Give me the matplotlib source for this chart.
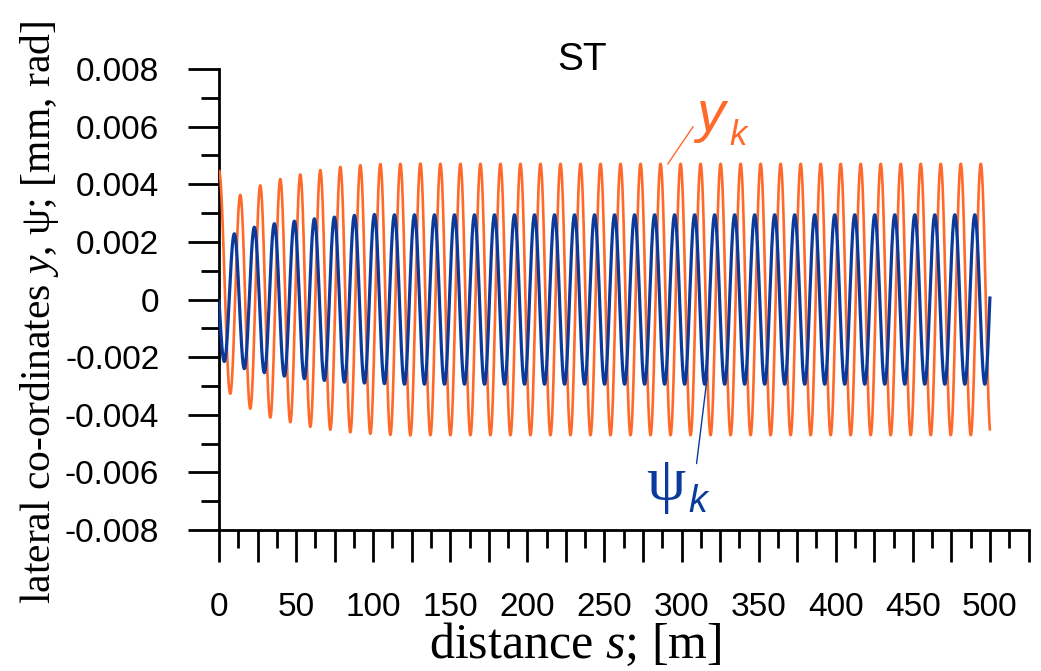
import numpy as np
import matplotlib
matplotlib.use("Agg")
import matplotlib.pyplot as plt
from matplotlib.ticker import MultipleLocator, FixedLocator

plt.rcParams['mathtext.fontset'] = 'custom'
plt.rcParams['mathtext.rm'] = 'Liberation Serif'
plt.rcParams['mathtext.it'] = 'Liberation Serif:italic'

# ---------------- data ----------------
s_max = 500.0                 # end of the simulated run [m]
wavelength = 12.98            # wavelength of the oscillation [m]

# lateral displacement y_k
y_start = 0.00448
y_first_extreme_s = 7.3
y_transient = [-0.00327, 0.00363, -0.00379, 0.00396, -0.00410, 0.00418,
               -0.00426, 0.00434, -0.00442, 0.00449, -0.00452, 0.00460,
               -0.00461, 0.00466, -0.00466, 0.00470, -0.00470, 0.00471,
               -0.00472, 0.00472]
y_steady = 0.00471

# yaw angle psi_k
psi_start = 0.0
psi_first_extreme_s = 3.44
psi_transient = [-0.00215, 0.00228, -0.00240, 0.00251, -0.00254, 0.00263,
                 -0.00266, 0.00272, -0.00275, 0.00280, -0.00281, 0.00286,
                 -0.00287, 0.00292, -0.00290, 0.00295, -0.00292]
psi_steady = 0.00294

x_ticks_labeled = [0, 50, 100, 150, 200, 250, 300, 350, 400, 450, 500]
y_ticks_labeled = [-0.008, -0.006, -0.004, -0.002, 0, 0.002, 0.004, 0.006, 0.008]
y_tick_text = ['-0.008', '-0.006', '-0.004', '-0.002', '0',
               '0.002', '0.004', '0.006', '0.008']


def build_curve(start_val, first_s, transient, steady, half, s_end):
    """Connect the read extremes with half-cosine arcs."""
    n_needed = int(np.ceil((s_end - first_s) / half)) + 2
    ext = list(transient)
    sign = -np.sign(ext[-1])
    while len(ext) < n_needed:
        ext.append(sign * steady)
        sign = -sign
    knots_s = [0.0] + [first_s + i * half for i in range(len(ext))]
    knots_v = [start_val] + ext
    s = np.linspace(0, s_end, 20000)
    v = np.empty_like(s)
    idx = np.searchsorted(knots_s, s, side='right') - 1
    idx = np.clip(idx, 0, len(knots_s) - 2)
    for i in np.unique(idx):
        m = idx == i
        s0, s1 = knots_s[i], knots_s[i + 1]
        a, b = knots_v[i], knots_v[i + 1]
        t = (s[m] - s0) / (s1 - s0)
        if i == 0 and start_val == 0.0:
            v[m] = b * np.sin(np.pi / 2 * t)
        else:
            v[m] = (a + b) / 2 + (a - b) / 2 * np.cos(np.pi * t)
    return s, v


half = wavelength / 2
s_y, y_vals = build_curve(y_start, y_first_extreme_s, y_transient, y_steady, half, s_max)
s_p, p_vals = build_curve(psi_start, psi_first_extreme_s, psi_transient, psi_steady, half, s_max)

# ---------------- figure ----------------
W, H = 1041, 671
fig = plt.figure(figsize=(W / 100, H / 100), dpi=100)
ax = fig.add_axes([219 / W, 1 - 530 / H, (1028.5 - 219) / W, (530 - 69) / H])

orange = '#FF6A2B'
blue = '#0A3B9C'
ax.plot(s_y, y_vals, color=orange, lw=1.9, zorder=3, solid_capstyle='butt')
ax.plot(s_p, p_vals, color=blue, lw=2.3, zorder=4, solid_capstyle='butt')

ax.set_xlim(0, 525)
ax.set_ylim(-0.008, 0.008)

for sp in ['top', 'right']:
    ax.spines[sp].set_visible(False)
for sp in ['left', 'bottom']:
    ax.spines[sp].set_linewidth(2.0)
    ax.spines[sp].set_zorder(2)

tick_font = dict(family='Liberation Sans', size=24)
ax.set_xticks(np.arange(0, 526, 25))
ax.set_xticklabels([str(int(v)) if int(v) in x_ticks_labeled and v % 50 == 0 else ''
                    for v in np.arange(0, 526, 25)], fontdict=tick_font)
ax.xaxis.set_minor_locator(MultipleLocator(12.5))
ax.yaxis.set_major_locator(FixedLocator(y_ticks_labeled))
ax.yaxis.set_minor_locator(MultipleLocator(0.001))
ax.set_yticklabels(y_tick_text, fontdict=tick_font)

ax.tick_params(axis='x', which='major', direction='out', length=23, width=2.0, pad=22)
ax.tick_params(axis='x', which='minor', direction='out', length=13, width=2.0)
ax.tick_params(axis='y', which='major', direction='out', length=22, width=2.0, pad=21)
ax.tick_params(axis='y', which='minor', direction='out', length=13, width=2.0)

fig.text(582 / W, 1 - 60 / H, 'ST', ha='center', va='center',
         family='Liberation Sans', fontsize=28)

fig.text(575 / W, 1 - 645 / H, r'distance $\mathit{s}$; [m]', ha='center', va='center',
         family='Liberation Serif', fontsize=36)
fig.text(40 / W, 1 - 312 / H, r'lateral co-ordinates $\mathit{y}$, ψ; [mm, rad]',
         ha='center', va='center', rotation=90, family='Liberation Serif', fontsize=30)

# curve labels with leader lines
ax.annotate('', xy=(290, 0.00462), xytext=(308.5, 0.00608),
            arrowprops=dict(arrowstyle='-', color=orange, lw=1.0))
fig.text(696 / W, 1 - 131 / H, 'y', family='Liberation Sans', style='italic',
         fontsize=41, color=orange, ha='left', va='baseline')
fig.text(729 / W, 1 - 145 / H, 'k', family='Liberation Sans', style='italic',
         fontsize=25, color=orange, ha='left', va='baseline')

ax.annotate('', xy=(316.8, -0.00262), xytext=(309.5, -0.00579),
            arrowprops=dict(arrowstyle='-', color=blue, lw=1.0))
fig.text(646 / W, 1 - 500 / H, 'ψ', family='Liberation Serif',
         fontsize=45, color=blue, ha='left', va='baseline')
fig.text(688 / W, 1 - 512 / H, 'k', family='Liberation Sans', style='italic',
         fontsize=27, color=blue, ha='left', va='baseline')

fig.savefig('out.png', dpi=100)
